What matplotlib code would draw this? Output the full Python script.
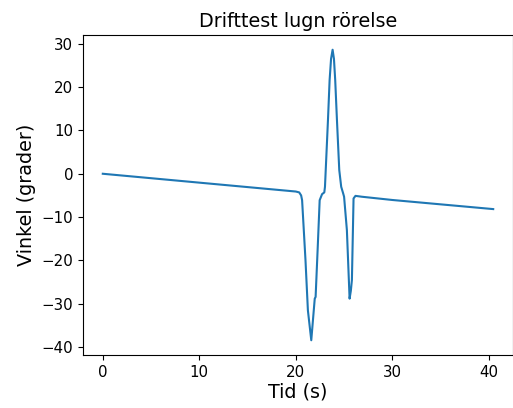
import matplotlib
matplotlib.use("Agg")
import matplotlib.pyplot as plt

# Data
tid = [0, 10, 20.0, 20.35, 20.55, 20.65, 21.0, 21.25, 21.6, 21.96, 22.05, 22.27,
       22.47, 22.72, 22.95, 23.02, 23.33, 23.5, 23.65, 23.81, 23.95, 24.08, 24.26,
       24.5, 24.7, 24.9, 25.0, 25.29, 25.57, 25.7, 25.81, 25.98, 26.18, 26.84, 30, 40.45]
vinkel = [0, -2.05, -4.1, -4.3, -5.0, -6.1, -19.9, -31.5, -38.4, -28.8, -28.4, -16.9,
          -6.1, -4.7, -4.3, -3.0, 12.4, 21.6, 26.5, 28.6, 26.5, 21.6, 12.4,
          0.85, -3.0, -4.5, -5.3, -13.0, -28.8, -27.0, -24.5, -5.7, -5.1, -5.3, -6.05, -8.15]

title = "Drifttest lugn rörelse"
xlabel = "Tid (s)"
ylabel = "Vinkel (grader)"

fig = plt.figure(figsize=(5.13, 4.08), dpi=100)
ax = fig.add_axes([83/513, 53/408, 430/513, 320/408])
ax.plot(tid, vinkel, color="tab:blue", linewidth=1.5)
ax.set_xlim(-2.05, 42.5)
ax.set_ylim(-41.8, 32.0)
ax.set_xticks([0, 10, 20, 30, 40])
ax.set_yticks([-40, -30, -20, -10, 0, 10, 20, 30])
ax.tick_params(labelsize=10.8)
ax.set_title(title, fontsize=13.8)
ax.set_xlabel(xlabel, fontsize=13.8, labelpad=2)
ax.set_ylabel(ylabel, fontsize=13.8)
fig.savefig("out.png", dpi=100)
